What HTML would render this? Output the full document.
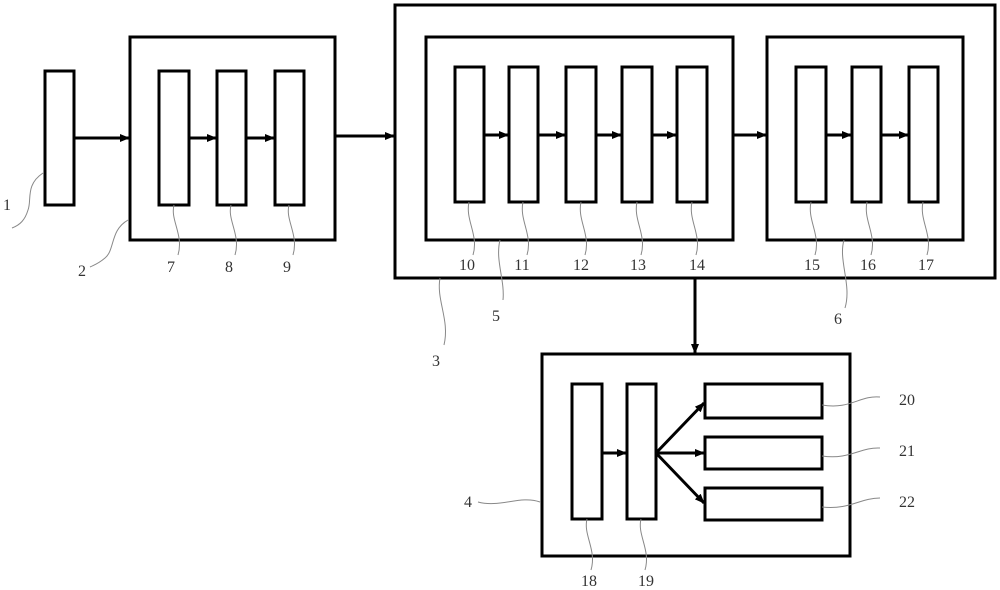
<!DOCTYPE html>
<html><head><style>html,body{margin:0;padding:0;background:#fff;}svg{display:block}</style></head>
<body>
<svg width="1000" height="590" viewBox="0 0 1000 590" xmlns="http://www.w3.org/2000/svg">
<defs><marker id="a" markerWidth="10" markerHeight="8" refX="9" refY="4" orient="auto" markerUnits="userSpaceOnUse"><path d="M0,0 L10,4 L0,8 z" fill="#000"/></marker></defs>
<g fill="none" stroke="#000" stroke-width="3">
<rect x="45" y="71" width="29" height="134"/>
<rect x="130" y="37" width="205" height="203"/>
<rect x="159" y="71" width="30" height="134"/>
<rect x="217" y="71" width="29" height="134"/>
<rect x="275" y="71" width="29" height="134"/>
<rect x="395" y="5" width="600" height="273"/>
<rect x="426" y="37" width="307" height="203"/>
<rect x="767" y="37" width="196" height="203"/>
<rect x="455" y="67" width="29" height="135"/>
<rect x="509" y="67" width="29" height="135"/>
<rect x="566" y="67" width="30" height="135"/>
<rect x="622" y="67" width="30" height="135"/>
<rect x="677" y="67" width="30" height="135"/>
<rect x="796" y="67" width="30" height="135"/>
<rect x="852" y="67" width="29" height="135"/>
<rect x="909" y="67" width="29" height="135"/>
<rect x="542" y="354" width="308" height="202"/>
<rect x="572" y="384" width="30" height="135"/>
<rect x="627" y="384" width="29" height="135"/>
<rect x="705" y="384" width="117" height="34"/>
<rect x="705" y="437" width="117" height="32"/>
<rect x="705" y="488" width="117" height="32"/>
</g>
<g stroke="#000" stroke-width="3" marker-end="url(#a)">
<line x1="74" y1="138" x2="129" y2="138"/>
<line x1="189" y1="138" x2="216" y2="138"/>
<line x1="246" y1="138" x2="274" y2="138"/>
<line x1="335" y1="136" x2="394" y2="136"/>
<line x1="484" y1="135" x2="508" y2="135"/>
<line x1="538" y1="135" x2="565" y2="135"/>
<line x1="596" y1="135" x2="621" y2="135"/>
<line x1="652" y1="135" x2="676" y2="135"/>
<line x1="733" y1="135" x2="766" y2="135"/>
<line x1="826" y1="135" x2="851" y2="135"/>
<line x1="881" y1="135" x2="908" y2="135"/>
<line x1="695" y1="278" x2="695" y2="353"/>
<line x1="602" y1="453" x2="626" y2="453"/>
<line x1="656" y1="453" x2="704" y2="403"/>
<line x1="656" y1="453" x2="704" y2="453"/>
<line x1="656" y1="453" x2="704" y2="503"/>
</g>
<g fill="none" stroke="#888" stroke-width="1">
<path d="M43,173 C25,185 32,200 28,210 C25,220 20,225 12,228"/>
<path d="M128,220 C110,230 115,250 105,258 C98,264 94,265 90,267"/>
<path d="M174,205 C170,220 184,235 178,255"/>
<path d="M231,205 C227,220 241,235 235,255"/>
<path d="M289,205 C285,220 299,235 293,255"/>
<path d="M469,202 C465,220 479,235 473,255"/>
<path d="M523,202 C519,220 533,235 527,255"/>
<path d="M581,202 C577,220 591,235 585,255"/>
<path d="M637,202 C633,220 647,235 641,255"/>
<path d="M692,202 C688,220 702,235 696,255"/>
<path d="M811,202 C807,220 821,235 815,255"/>
<path d="M867,202 C863,220 877,235 871,255"/>
<path d="M923,202 C919,220 933,235 927,255"/>
<path d="M500,240 C495,260 505,280 503,300"/>
<path d="M844,240 C838,260 852,285 845,308"/>
<path d="M440,278 C436,300 450,320 444,345"/>
<path d="M587,519 C583,535 597,550 591,570"/>
<path d="M641,519 C637,535 651,550 645,570"/>
<path d="M822,405 C850,410 860,395 880,397"/>
<path d="M822,456 C850,460 860,447 880,448"/>
<path d="M822,507 C850,510 860,498 880,498"/>
<path d="M540,502 C520,495 500,508 478,502"/>
</g>
<g font-family="Liberation Serif, serif" font-size="16" fill="#333" text-anchor="middle">
<text x="7" y="210">1</text>
<text x="82" y="276">2</text>
<text x="171" y="272">7</text>
<text x="229" y="272">8</text>
<text x="287" y="272">9</text>
<text x="467" y="270">10</text>
<text x="522" y="270">11</text>
<text x="581" y="270">12</text>
<text x="638" y="270">13</text>
<text x="697" y="270">14</text>
<text x="812" y="270">15</text>
<text x="868" y="270">16</text>
<text x="926" y="270">17</text>
<text x="496" y="321">5</text>
<text x="838" y="324">6</text>
<text x="436" y="366">3</text>
<text x="468" y="507">4</text>
<text x="589" y="586">18</text>
<text x="646" y="586">19</text>
<text x="907" y="405">20</text>
<text x="907" y="456">21</text>
<text x="907" y="507">22</text>
</g>
</svg>
</body></html>
